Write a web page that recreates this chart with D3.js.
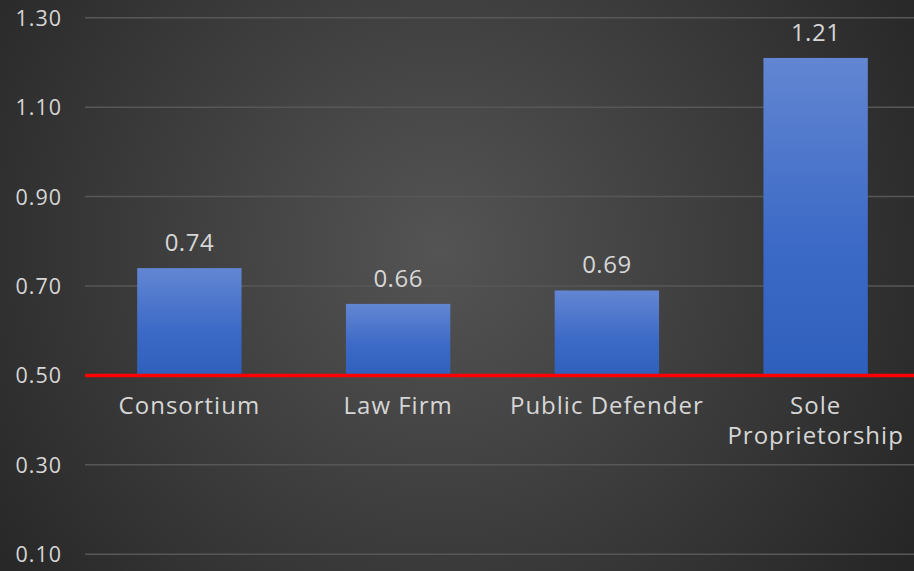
<!DOCTYPE html>
<html>
<head>
<meta charset="utf-8">
<script src="https://cdn.jsdelivr.net/npm/d3@7"></script>
<style>
  html, body { margin: 0; padding: 0; background: #2b2b2b; }
  svg { display: block; }
  text { font-family: "Open Sans", "DejaVu Sans", sans-serif; }
</style>
</head>
<body>
<script>
// Average ratio by provider type; bars rise from the 0.50 reference line
const categories = ["Consortium", "Law Firm", "Public Defender", "Sole Proprietorship"];
const values = [0.74, 0.66, 0.69, 1.21];
const tickValues = [0.10, 0.30, 0.50, 0.70, 0.90, 1.10, 1.30];
const baseline = 0.50;

const W = 914, H = 571;
const margin = { left: 85, top: 17.7, bottom: 16.7 };
const plotRight = 920; // category bands run slightly past the right edge

const svg = d3.select("body").append("svg")
  .attr("width", W).attr("height", H);

const defs = svg.append("defs");
const bg = defs.append("radialGradient").attr("id", "bg")
  .attr("gradientUnits", "userSpaceOnUse")
  .attr("cx", 440).attr("cy", 250).attr("r", 560);
bg.append("stop").attr("offset", "0%").attr("stop-color", "#545454");
bg.append("stop").attr("offset", "100%").attr("stop-color", "#262626");

const barGrad = defs.append("linearGradient").attr("id", "barGrad")
  .attr("x1", 0).attr("y1", 0).attr("x2", 0).attr("y2", 1);
barGrad.append("stop").attr("offset", "0%").attr("stop-color", "#6286d2");
barGrad.append("stop").attr("offset", "60%").attr("stop-color", "#3b69c6");
barGrad.append("stop").attr("offset", "100%").attr("stop-color", "#2f5fbc");

svg.append("rect").attr("width", W).attr("height", H).attr("fill", "url(#bg)");

const y = d3.scaleLinear().domain([0.10, 1.30]).range([H - margin.bottom, margin.top]);
const x = d3.scaleBand().domain(categories)
  .range([margin.left, plotRight]).paddingInner(0.5).paddingOuter(0.25);

// gridlines
svg.append("g").selectAll("line").data(tickValues).join("line")
  .attr("x1", margin.left).attr("x2", W)
  .attr("y1", d => y(d)).attr("y2", d => y(d))
  .attr("stroke", "#575757").attr("stroke-width", 1.5);

// y axis labels
const yAxis = d3.axisLeft(y).tickValues(tickValues).tickFormat(d3.format(".2f")).tickSize(0).tickPadding(0);
const yg = svg.append("g").attr("transform", `translate(62,0)`).call(yAxis);
yg.select(".domain").remove();
yg.selectAll("text").attr("fill", "#d6d6d6").style("font-size", "21.5px")
  .style("letter-spacing", "1px")
  .attr("font-family", "\"Open Sans\", sans-serif").attr("dy", "0.35em");

// bars from baseline
svg.append("g").selectAll("rect").data(values).join("rect")
  .attr("x", (d, i) => x(categories[i]))
  .attr("width", x.bandwidth())
  .attr("y", d => y(d))
  .attr("height", d => y(baseline) - y(d))
  .attr("fill", "url(#barGrad)");

// value labels
svg.append("g").selectAll("text").data(values).join("text")
  .attr("x", (d, i) => x(categories[i]) + x.bandwidth() / 2)
  .attr("y", d => y(d) - 17)
  .attr("text-anchor", "middle")
  .attr("fill", "#d6d6d6").style("font-size", "24px")
  .style("letter-spacing", "0.5px")
  .text(d => d3.format(".2f")(d));

// reference line at baseline
svg.append("line")
  .attr("x1", margin.left).attr("x2", W)
  .attr("y1", y(baseline)).attr("y2", y(baseline))
  .attr("stroke", "#ff0000").attr("stroke-width", 3.5);

// category labels (long label wraps onto two lines)
const catLines = c => c === "Sole Proprietorship" ? ["Sole", "Proprietorship"] : [c];
const cg = svg.append("g").selectAll("text").data(categories).join("text")
  .attr("text-anchor", "middle")
  .attr("fill", "#d6d6d6").style("font-size", "24px")
  .style("letter-spacing", "1px");
cg.each(function(c) {
  const t = d3.select(this);
  catLines(c).forEach((line, j) => {
    t.append("tspan")
      .attr("x", x(c) + x.bandwidth() / 2)
      .attr("y", y(baseline) + 39 + j * 30)
      .text(line);
  });
});
</script>
</body>
</html>
